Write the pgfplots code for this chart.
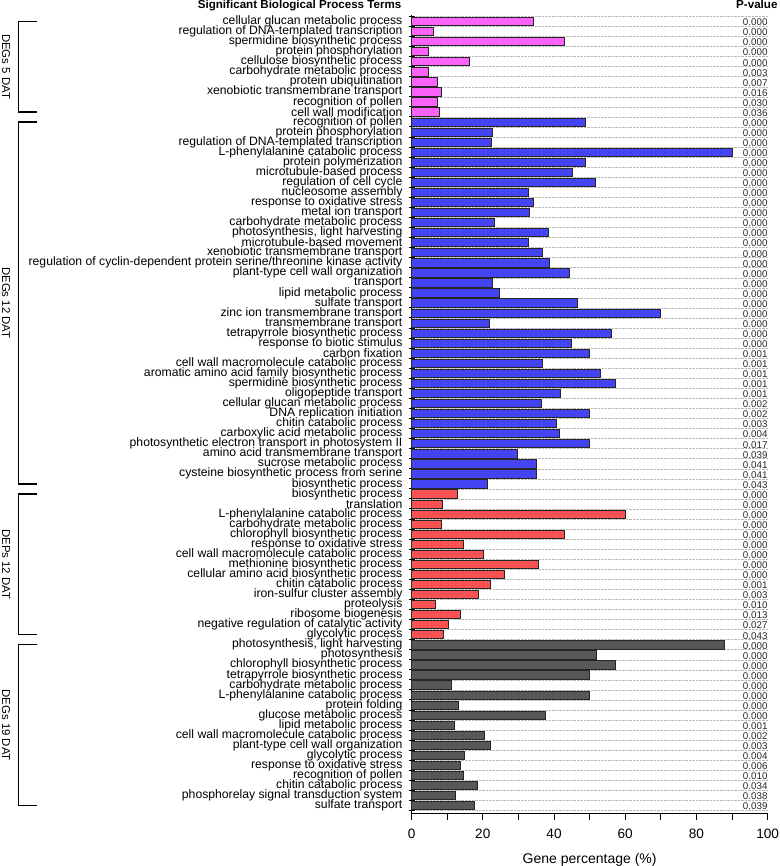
\documentclass[border=0pt]{standalone}
\usepackage{pgfplots}
\pgfplotsset{compat=1.18}
\usepackage{pgfplotstable}
\usepackage{fontspec}
\setmainfont{Liberation Sans}

\definecolor{cpink}{RGB}{250,98,248}
\definecolor{cblue}{RGB}{68,68,245}
\definecolor{cred}{RGB}{250,82,82}
\definecolor{cgray}{RGB}{88,88,88}

% row index (top to bottom), gene percentage, P-value
\pgfplotstableread{
y val p
1 34.1 0.000
2 6.0 0.000
3 42.8 0.000
4 4.6 0.000
5 16.1 0.000
6 4.6 0.003
7 7.3 0.007
8 8.4 0.016
9 7.2 0.030
10 7.7 0.036
}\degsFive

\pgfplotstableread{
y val p
11 48.7 0.000
12 22.7 0.000
13 22.4 0.000
14 90.0 0.000
15 48.7 0.000
16 45.1 0.000
17 51.5 0.000
18 32.9 0.000
19 34.2 0.000
20 33.0 0.000
21 23.1 0.000
22 38.4 0.000
23 32.7 0.000
24 36.6 0.000
25 38.8 0.000
26 44.4 0.000
27 22.6 0.000
28 24.6 0.000
29 46.4 0.000
30 69.9 0.000
31 21.7 0.000
32 56.2 0.000
33 44.8 0.000
34 50.0 0.001
35 36.7 0.001
36 53.0 0.001
37 57.1 0.001
38 41.9 0.001
39 36.5 0.002
40 50.0 0.002
41 40.7 0.003
42 41.6 0.004
43 50.0 0.017
44 29.7 0.039
45 34.9 0.041
46 34.9 0.041
47 21.4 0.043
}\degsTwelve

\pgfplotstableread{
y val p
48 12.8 0.000
49 8.5 0.000
50 60.0 0.000
51 8.3 0.000
52 42.8 0.000
53 14.4 0.000
54 20.2 0.000
55 35.6 0.000
56 26.0 0.000
57 22.1 0.001
58 18.7 0.003
59 6.7 0.010
60 13.8 0.013
61 10.2 0.027
62 8.8 0.043
}\depsTwelve

\pgfplotstableread{
y val p
63 87.7 0.000
64 51.8 0.000
65 57.1 0.000
66 50.0 0.000
67 11.1 0.000
68 50.0 0.000
69 13.0 0.000
70 37.5 0.000
71 11.9 0.001
72 20.3 0.002
73 22.1 0.003
74 14.7 0.004
75 13.6 0.006
76 14.6 0.010
77 18.4 0.034
78 12.4 0.038
79 17.7 0.039
}\degsNineteen

\newcommand{\termfont}{\fontsize{12.2}{12}\selectfont}
\newcommand{\pfont}{\fontsize{9.8}{10}\selectfont}
\newcommand{\headfont}{\fontsize{11.6}{12}\selectfont\bfseries}
\newcommand{\grpfont}{\fontsize{11.4}{12}\selectfont}

\pgfplotsset{
  termbar/.style={xbar, bar shift=0pt, bar width=0.82, draw=black!85,
    line width=0.6pt, fill=#1},
  pcol/.style={draw=none, mark=none, nodes near coords,
    point meta=explicit symbolic,
    every node near coord/.append style={anchor=east, inner sep=0pt,
      yshift=-1pt, font=\pfont, text=black!85}},
}

\begin{document}
\begin{tikzpicture}
\begin{axis}[
  scale only axis, width=356pt, height=798pt,
  xmin=0, xmax=100, ymin=0.4, ymax=79.8, y dir=reverse,
  clip=false,
  axis x line*=bottom, axis y line*=left,
  axis line style={line width=1.2pt, black},
  xtick={0,20,...,100}, minor x tick num=1,
  ytick={1,...,79},
  minor ytick={0.5,1.5,...,79.5},
  yminorgrids=true,
  minor grid style={densely dotted, black!28, line width=0.5pt},
  % y ticks straddle the axis line, x ticks hang below it
  tick align=center,
  major tick length=6pt, minor tick length=6pt,
  every major y tick/.append style={draw=none},
  every major x tick/.append style={yshift=-3pt},
  every minor x tick/.append style={yshift=-3pt},
  tick style={black, line width=1pt},
  xticklabel style={font=\fontsize{13.6}{14}\selectfont, inner sep=0pt,
    anchor=north, yshift=-12pt},
  yticklabel style={font=\termfont, inner sep=0pt, xshift=-6pt},
  /pgf/number format/assume math mode=true,
  xlabel={Gene percentage (\%)},
  xlabel style={font=\fontsize{14}{14}\selectfont, inner sep=0pt,
    at={(axis description cs:0.5,0)}, anchor=base, yshift=-49.5pt},
  yticklabels={
    cellular glucan metabolic process,
    regulation of DNA-templated transcription,
    spermidine biosynthetic process,
    protein phosphorylation,
    cellulose biosynthetic process,
    carbohydrate metabolic process,
    protein ubiquitination,
    xenobiotic transmembrane transport,
    recognition of pollen,
    cell wall modification,
    recognition of pollen,
    protein phosphorylation,
    regulation of DNA-templated transcription,
    L-phenylalanine catabolic process,
    protein polymerization,
    microtubule-based process,
    regulation of cell cycle,
    nucleosome assembly,
    response to oxidative stress,
    metal ion transport,
    carbohydrate metabolic process,
    {photosynthesis, light harvesting},
    microtubule-based movement,
    xenobiotic transmembrane transport,
    regulation of cyclin-dependent protein serine/threonine kinase activity,
    plant-type cell wall organization,
    transport,
    lipid metabolic process,
    sulfate transport,
    zinc ion transmembrane transport,
    transmembrane transport,
    tetrapyrrole biosynthetic process,
    response to biotic stimulus,
    carbon fixation,
    cell wall macromolecule catabolic process,
    aromatic amino acid family biosynthetic process,
    spermidine biosynthetic process,
    oligopeptide transport,
    cellular glucan metabolic process,
    DNA replication initiation,
    chitin catabolic process,
    carboxylic acid metabolic process,
    photosynthetic electron transport in photosystem II,
    amino acid transmembrane transport,
    sucrose metabolic process,
    cysteine biosynthetic process from serine,
    biosynthetic process,
    biosynthetic process,
    translation,
    L-phenylalanine catabolic process,
    carbohydrate metabolic process,
    chlorophyll biosynthetic process,
    response to oxidative stress,
    cell wall macromolecule catabolic process,
    methionine biosynthetic process,
    cellular amino acid biosynthetic process,
    chitin catabolic process,
    iron-sulfur cluster assembly,
    proteolysis,
    ribosome biogenesis,
    negative regulation of catalytic activity,
    glycolytic process,
    {photosynthesis, light harvesting},
    photosynthesis,
    chlorophyll biosynthetic process,
    tetrapyrrole biosynthetic process,
    carbohydrate metabolic process,
    L-phenylalanine catabolic process,
    protein folding,
    glucose metabolic process,
    lipid metabolic process,
    cell wall macromolecule catabolic process,
    plant-type cell wall organization,
    glycolytic process,
    response to oxidative stress,
    recognition of pollen,
    chitin catabolic process,
    phosphorelay signal transduction system,
    sulfate transport,
  },
]
\addplot[termbar=cpink] table[x=val, y=y] {\degsFive};
\addplot[termbar=cblue] table[x=val, y=y] {\degsTwelve};
\addplot[termbar=cred]  table[x=val, y=y] {\depsTwelve};
\addplot[termbar=cgray] table[x=val, y=y] {\degsNineteen};

\addplot[pcol] table[x expr=100, y=y, meta=p] {\degsFive};
\addplot[pcol] table[x expr=100, y=y, meta=p] {\degsTwelve};
\addplot[pcol] table[x expr=100, y=y, meta=p] {\depsTwelve};
\addplot[pcol] table[x expr=100, y=y, meta=p] {\degsNineteen};

% column headings
\node[anchor=base east, font=\headfont, inner sep=0pt]
  at ([xshift=-10pt, yshift=7pt]axis description cs:0,1)
  {Significant Biological Process Terms};
\node[anchor=base east, font=\headfont, inner sep=0pt]
  at ([xshift=10pt, yshift=7pt]axis description cs:1,1) {P-value};

% group brackets with their names
\draw[line width=1.3pt, black]
  ([xshift=-374pt]axis cs:0,1) -- ([xshift=-393pt]axis cs:0,1)
  -- ([xshift=-393pt]axis cs:0,10) -- ([xshift=-374pt]axis cs:0,10);
\draw[line width=1.3pt, black]
  ([xshift=-374pt]axis cs:0,11) -- ([xshift=-393pt]axis cs:0,11)
  -- ([xshift=-393pt]axis cs:0,47) -- ([xshift=-374pt]axis cs:0,47);
\draw[line width=1.3pt, black]
  ([xshift=-374pt]axis cs:0,48) -- ([xshift=-393pt]axis cs:0,48)
  -- ([xshift=-393pt]axis cs:0,62) -- ([xshift=-374pt]axis cs:0,62);
\draw[line width=1.3pt, black]
  ([xshift=-374pt]axis cs:0,63) -- ([xshift=-393pt]axis cs:0,63)
  -- ([xshift=-393pt]axis cs:0,79) -- ([xshift=-374pt]axis cs:0,79);
\node[rotate=-90, font=\grpfont, inner sep=0pt]
  at ([xshift=-405.5pt]axis cs:0,5.5) {DEGs 5 DAT};
\node[rotate=-90, font=\grpfont, inner sep=0pt]
  at ([xshift=-405.5pt]axis cs:0,29) {DEGs 12 DAT};
\node[rotate=-90, font=\grpfont, inner sep=0pt]
  at ([xshift=-405.5pt]axis cs:0,55) {DEPs 12 DAT};
\node[rotate=-90, font=\grpfont, inner sep=0pt]
  at ([xshift=-405.5pt]axis cs:0,71) {DEGs 19 DAT};
% a little white margin on the left edge
\path ([xshift=-411.5pt]axis cs:0,40) circle (0pt);
\end{axis}
\end{tikzpicture}
\end{document}
